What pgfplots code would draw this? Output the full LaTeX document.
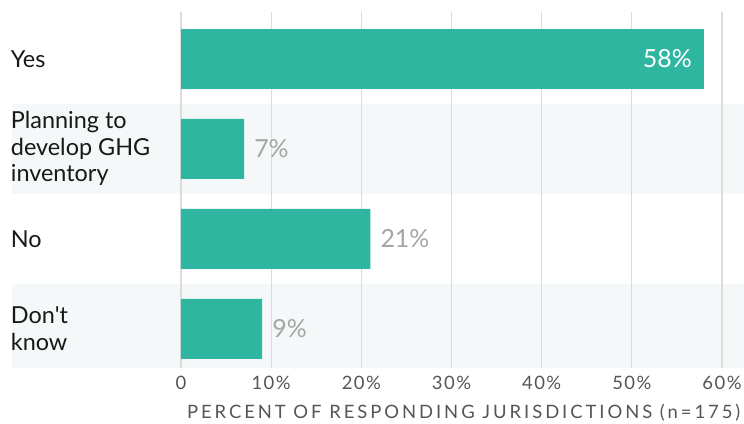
\documentclass[border=0pt]{standalone}
\usepackage{fontspec}
\setmainfont{Lato}
\newfontfamily\spacedfont[LetterSpace=8]{Lato}
\newfontfamily\titlefont[LetterSpace=16]{Lato}
\usepackage{pgfplots}
\pgfplotsset{compat=1.18}
\definecolor{barc}{HTML}{2EB6A1}
\definecolor{stripec}{HTML}{F4F8F8}
\definecolor{gridc}{HTML}{DCDCDC}
\definecolor{tickc}{HTML}{555555}
\definecolor{valc}{HTML}{A6A6A6}
\begin{document}
\begin{tikzpicture}
\begin{axis}[
  name=ax, set layers, scale only axis, clip=false,
  width=563bp, height=356.4bp,
  xmin=0, xmax=62.44, ymin=-0.52, ymax=3.44, y dir=reverse,
  xbar, bar width=60bp, bar shift=0pt,
  axis line style={draw=none}, tick style={draw=none},
  xtick={0,10,...,60}, xticklabels={0,10\%,20\%,30\%,40\%,50\%,60\%},
  xmajorgrids, major grid style={color=gridc, line width=1.2bp},
  ytick={0,1,2,3},
  yticklabels={Yes,{Planning to\\develop GHG\\inventory},No,{Don\textquotesingle t\\know}},
  yticklabel style={anchor=west, align=left, inner sep=0pt, xshift=-166bp,
    font=\fontsize{23.5}{26.5}\selectfont, text=black!90},
  xticklabel style={anchor=north, inner sep=0pt, yshift=-8bp,
    font=\spacedfont\fontsize{18.5}{20}\selectfont, text=tickc},
  xlabel={PERCENT OF RESPONDING JURISDICTIONS (n=175)},
  xlabel style={at={(axis description cs:0.502,0)}, anchor=north, inner sep=0pt, yshift=-36bp,
    font=\titlefont\fontsize{18.5}{20}\selectfont, text=tickc},
]
\begin{pgfonlayer}{axis background}
\fill[stripec] (axis cs:-18.74,0.5) rectangle (axis cs:62.44,1.5);
\fill[stripec] (axis cs:-18.74,2.5) rectangle (axis cs:62.44,3.44);
\end{pgfonlayer}
\addplot[fill=barc, draw=none,
  nodes near coords={\pgfmathprintnumber[assume math mode=true]{\pgfplotspointmeta}\%},
  nodes near coords style={anchor=east, inner sep=0pt, xshift=-12bp, text=white,
    font=\fontsize{25}{27}\selectfont}]
  coordinates {(58,0)};
\addplot[fill=barc, draw=none,
  nodes near coords={\pgfmathprintnumber[assume math mode=true]{\pgfplotspointmeta}\%},
  nodes near coords style={anchor=west, inner sep=0pt, xshift=10bp, text=valc,
    font=\fontsize{25}{27}\selectfont}]
  coordinates {(7,1) (21,2) (9,3)};
\coordinate (bbA) at (axis cs:-20.07,4.051);
\coordinate (bbB) at (axis cs:62.44,-0.653);
\end{axis}
\pgfresetboundingbox
\useasboundingbox (bbA) rectangle (bbB);
\end{tikzpicture}
\end{document}
